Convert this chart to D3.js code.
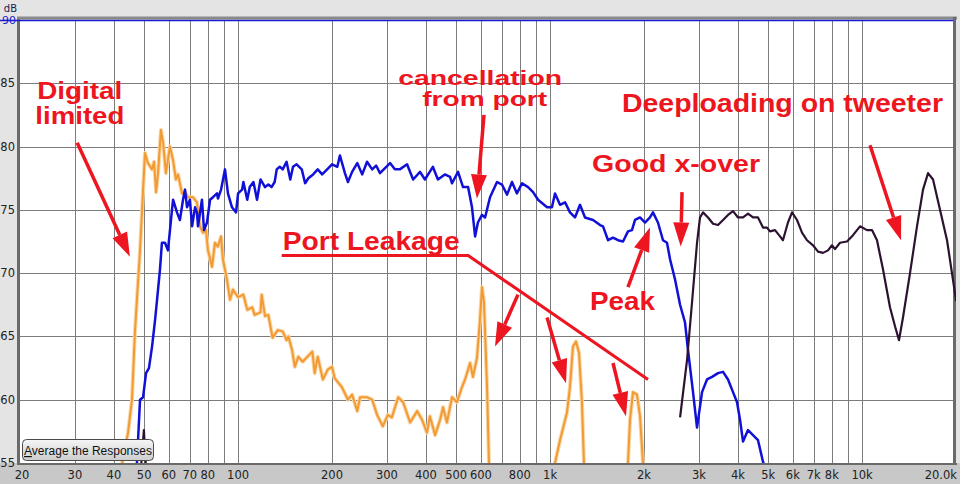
<!DOCTYPE html>
<html>
<head>
<meta charset="utf-8">
<script src="https://cdn.jsdelivr.net/npm/d3@7/dist/d3.min.js"></script>
<style>
  body { margin: 0; background: #e4e4e4; }
  svg { display: block; }
</style>
</head>
<body>
<div id="chart"></div>
<script>
// grid + tick values
var gridFreqs = [30, 40, 50, 60, 70, 80, 90, 100, 200, 300, 400, 500, 600, 700, 800, 900,
  1000, 2000, 3000, 4000, 5000, 6000, 7000, 8000, 9000, 10000];
var freqLabels = [20, 30, 40, 50, 60, 70, 80, 100, 200, 300, 400, 500, 600, 800,
  1000, 2000, 3000, 4000, 5000, 6000, 7000, 8000, 10000, 20000];
var dbTicks = [55, 60, 65, 70, 75, 80, 85];

// woofer (blue) [Hz, dB]
var woofer = [[47.4,55.0],[48.5,60.0],[49.6,60.2],[50.7,62.1],[51.8,62.5],[53.0,64.2],[54.2,66.3],
  [55.0,67.9],[56.2,70.3],[57.0,72.4],[58.3,72.4],[59.6,71.8],[61.4,75.0],[61.9,75.8],[63.7,74.8],
  [65.1,74.2],[66.6,75.8],[67.6,76.6],[68.6,75.2],[70.1,75.8],[71.2,73.7],[72.8,75.2],[73.8,74.8],
  [74.4,73.7],[76.6,75.8],[77.8,73.4],[79.5,74.0],[81.3,75.8],[83.1,76.0],[85.6,76.3],[86.2,75.9],
  [88.2,76.6],[90.8,78.2],[92.8,76.3],[95.6,75.2],[98.5,74.8],[100,76.3],[103,76.6],[104,77.2],
  [107,75.8],[109,76.8],[112,77.2],[115,75.8],[118,77.4],[122,76.8],[125,77.0],[128,76.8],
  [131,77.2],[133,78.2],[136,78.4],[139,78.2],[143,78.8],[147,77.4],[150,78.4],[154,78.6],
  [160,78.2],[164,77.1],[168,77.5],[174,77.8],[180,78.2],[186,77.8],[193,78.2],[200,78.6],
  [208,78.4],[212,79.3],[220,77.9],[225,77.2],[232,78.0],[241,78.7],[250,77.8],[259,78.8],
  [269,78.2],[277,78.5],[285,77.9],[307,78.7],[318,78.2],[330,78.2],[348,78.6],[364,77.4],
  [383,78.0],[397,77.4],[421,78.4],[437,77.4],[460,77.8],[478,77.6],[485,77.1],[507,78.0],
  [526,76.8],[546,76.8],[562,75.2],[575,72.9],[587,74.0],[605,74.6],[619,74.4],[642,76.0],
  [676,77.2],[701,77.0],[728,76.2],[755,77.2],[783,76.3],[813,77.1],[850,76.8],[882,76.4],
  [915,75.8],[978,75.2],[1014,75.2],[1037,76.3],[1076,75.4],[1117,75.6],[1158,74.8],[1202,74.4],
  [1247,75.4],[1294,74.4],[1373,74.2],[1446,73.8],[1478,73.7],[1534,72.6],[1591,72.8],[1651,72.6],
  [1713,72.5],[1777,73.3],[1830,73.4],[1872,74.2],[1942,74.4],[2015,74.0],[2090,74.4],[2137,74.8],
  [2217,74.0],[2301,72.6],[2370,72.4],[2424,71.1],[2515,69.5],[2610,67.5],[2707,66.1],[2768,63.9],
  [2872,60.6],[2958,57.8],[3069,60.6],[3184,61.6],[3304,61.8],[3454,62.1],[3584,62.2],[3718,61.6],
  [3858,60.6],[3974,59.8],[4063,58.4],[4154,56.7],[4309,57.6],[4471,57.2],[4639,56.8],[4813,55.1],
  [4885,54.6]];

// port (orange) [Hz, dB]
var port = [[42.5,55.0],[44.4,57.4],[45.7,60.0],[46.7,65.3],[47.4,67.9],[48.5,71.8],[50.3,79.5],
  [51.4,78.7],[53.0,78.2],[53.8,78.8],[54.6,76.4],[55.4,77.9],[56.6,81.3],[57.5,80.3],[58.7,77.9],
  [60.5,80.0],[61.9,78.9],[63.2,77.4],[64.2,77.8],[66.1,76.3],[67.6,76.4],[69.1,76.0],[71.7,76.0],
  [73.8,75.6],[75.5,73.7],[77.2,73.2],[78.9,73.4],[80.1,71.8],[82.5,70.5],[84.3,72.4],[86.2,72.1],
  [88.2,72.9],[89.4,71.1],[92.1,69.5],[94.2,67.9],[96.3,68.7],[100,68.1],[104,68.3],[107,67.1],
  [111,67.3],[113,66.7],[118,66.9],[119,68.3],[122,66.6],[125,66.7],[129,64.9],[134,65.5],
  [139,65.4],[143,64.7],[145,65.0],[149,63.9],[152,62.6],[156,63.4],[161,63.0],[173,63.8],
  [176,62.1],[180,63.4],[187,61.6],[194,62.4],[200,62.6],[204,61.7],[215,61.0],[225,60.0],
  [232,60.4],[241,59.1],[246,60.2],[259,60.2],[269,60.0],[279,58.8],[291,57.9],[302,58.8],
  [311,58.6],[326,60.2],[338,59.8],[356,58.2],[375,59.1],[389,58.4],[403,57.4],[412,58.7],
  [428,57.2],[444,58.4],[454,59.4],[467,58.2],[485,60.2],[503,59.8],[522,61.0],[534,61.6],
  [554,62.9],[566,61.8],[583,63.3],[596,66.3],[605,68.9],[614,67.7],[628,61.0],[637,55.0],
  [700,48],[1000,48],[1037,55.0],[1076,56.8],[1133,59.0],[1158,61.0],[1184,64.2],[1211,64.6],
  [1238,63.7],[1265,59.8],[1284,55.0],[1400,48],[1750,48],[1777,55.0],[1804,58.4],[1844,60.6],
  [1899,60.4],[1942,58.7],[1985,55.0],[2100,48]];

// tweeter (dark) [Hz, dB]
var tweeter = [[2610,58.6],[2747,63.1],[2851,67.7],[2958,72.4],[3024,74.4],[3092,74.8],[3208,74.4],
  [3329,73.9],[3454,73.8],[3584,74.2],[3718,74.6],[3858,74.9],[4003,74.4],[4154,74.4],[4309,74.7],
  [4471,74.4],[4639,74.4],[4813,73.6],[4958,73.6],[5068,73.3],[5259,73.4],[5457,72.9],[5577,72.6],
  [5787,74.0],[5963,74.8],[6187,74.2],[6419,73.2],[6660,72.6],[6962,72.2],[7224,71.7],[7495,71.6],
  [7777,71.8],[8009,72.2],[8188,71.9],[8496,72.4],[8946,72.5],[9354,73.0],[9848,73.7],[10368,73.4],
  [10760,73.4],[11164,72.6],[11668,70.3],[12288,67.3],[12750,65.8],[13132,64.7],[13524,66.5],
  [14244,70.0],[14998,73.7],[15680,76.6],[16272,77.9],[16882,77.4],[17774,75.0],[18718,72.6],
  [19854,68.4],[20000,67.8]];
var tweeterLow = [[48.8,54.5],[49.9,57.6],[50.7,54.5]];

// annotations, in chart units [Hz, dB]
var notes = [
  { size: 23, lines: [
    { text: "Digital", at: [22.7, 83.76], w: 85 },
    { text: "limited", at: [22.4, 81.78], w: 89 } ] },
  { size: 21, lines: [
    { text: "cancellation", at: [326, 84.9], w: 164 },
    { text: "from port", at: [389, 83.2], w: 125 } ] },
  { size: 25, lines: [{ text: "Deeploading on tweeter", at: [1700, 82.7], w: 321 }] },
  { size: 24, lines: [{ text: "Good x-over", at: [1363, 78.0], w: 168 }] },
  { size: 25, lines: [{ text: "Port Leakage", at: [139, 71.8], w: 177 }] },
  { size: 25, lines: [{ text: "Peak", at: [1343, 67.1], w: 65 }] }
];
var arrows = [
  [[30.5, 80.3], [45.0, 71.3]],
  [[614, 82.5], [583, 75.9]],
  [[2648, 76.4], [2622, 72.1]],
  [[1777, 68.9], [2090, 73.6]],
  [[10604, 80.1], [13330, 72.6]],
  [[789, 68.3], [666, 64.2]],
  [[978, 66.5], [1125, 61.3]],
  [[1591, 62.9], [1751, 58.7]]
];
var leakLine = [[138, 71.4], [546, 71.4], [2060, 61.6]];

var W = 960, H = 484;
var m = { left: 20, right: 956, top: 20, bottom: 463 };

var x = d3.scaleLog().domain([20, 20000]).range([m.left, m.right]);
var y = d3.scaleLinear().domain([55, 90]).range([m.bottom, m.top]);

var svg = d3.select("#chart").append("svg")
    .attr("width", W)
    .attr("height", H);

// bottom band
svg.append("rect")
    .attr("x", 0).attr("y", m.bottom)
    .attr("width", W).attr("height", H - m.bottom)
    .style("fill", "#c8c8c8");

// plot area
svg.append("rect")
    .attr("x", m.left).attr("y", m.top)
    .attr("width", m.right - m.left).attr("height", m.bottom - m.top)
    .style("fill", "#fff");

svg.append("clipPath").attr("id", "clip")
  .append("rect")
    .attr("x", m.left).attr("y", m.top)
    .attr("width", m.right - m.left).attr("height", m.bottom - m.top);

// grid
svg.selectAll(".vgrid")
    .data(gridFreqs)
  .enter().append("line")
    .attr("class", "vgrid")
    .attr("x1", function(d){ return Math.round(x(d)) + 0.5; })
    .attr("x2", function(d){ return Math.round(x(d)) + 0.5; })
    .attr("y1", m.top).attr("y2", m.bottom)
    .style("stroke", "#7c7c7c").style("stroke-width", 1);

svg.selectAll(".hgrid")
    .data(dbTicks)
  .enter().append("line")
    .attr("class", "hgrid")
    .attr("x1", m.left).attr("x2", m.right)
    .attr("y1", function(d){ return Math.round(y(d)) + 0.5; })
    .attr("y2", function(d){ return Math.round(y(d)) + 0.5; })
    .style("stroke", "#7c7c7c").style("stroke-width", 1);

// frame
svg.append("line")
    .attr("x1", m.left - 1.5).attr("x2", m.left - 1.5)
    .attr("y1", m.top - 3).attr("y2", m.bottom + 2)
    .style("stroke", "#6a6a6a").style("stroke-width", 3);
svg.append("line")
    .attr("x1", m.left - 3).attr("x2", m.right + 1)
    .attr("y1", m.top - 2).attr("y2", m.top - 2)
    .style("stroke", "#8a8a8a").style("stroke-width", 3);
svg.append("line")
    .attr("x1", m.right - 1.5).attr("x2", m.right - 1.5)
    .attr("y1", m.top - 3).attr("y2", m.bottom + 2)
    .style("stroke", "#6a6a6a").style("stroke-width", 3);
svg.append("line")
    .attr("x1", m.left - 3).attr("x2", m.right + 1)
    .attr("y1", m.bottom + 1).attr("y2", m.bottom + 1)
    .style("stroke", "#6a6a6a").style("stroke-width", 2);
svg.append("line")
    .attr("x1", 0).attr("x2", m.right - 3)
    .attr("y1", y(90) + 0.5).attr("y2", y(90) + 0.5)
    .style("stroke", "#1a1ad0").style("stroke-width", 1.5);

// axis labels
function fmtFreq(f){
  if (f == 20000) return "20.0k";
  return f >= 1000 ? (f / 1000) + "k" : "" + f;
}
svg.selectAll(".xlab")
    .data(freqLabels)
  .enter().append("text")
    .attr("class", "xlab")
    .attr("x", function(d){ return d == 20 ? x(d) + 2 : (d == 20000 ? x(d) + 1 : x(d)); })
    .attr("y", 479)
    .attr("text-anchor", function(d){ return d == 20000 ? "end" : "middle"; })
    .style("font-family", "'DejaVu Sans', sans-serif")
    .style("font-size", "11.5px")
    .style("fill", "#222")
    .text(fmtFreq);

svg.selectAll(".ylab")
    .data(dbTicks)
  .enter().append("text")
    .attr("class", "ylab")
    .attr("x", 15)
    .attr("y", function(d){ return y(d) + 4; })
    .attr("text-anchor", "end")
    .style("font-family", "'DejaVu Sans', sans-serif")
    .style("font-size", "11.5px")
    .style("fill", "#222")
    .text(function(d){ return d; });

svg.append("text")
    .attr("x", 17).attr("y", 12)
    .attr("text-anchor", "end")
    .style("font-family", "'DejaVu Sans', sans-serif")
    .style("font-size", "10px")
    .style("fill", "#1a1a50")
    .text("dB");
svg.append("text")
    .attr("x", 16).attr("y", y(90) + 4)
    .attr("text-anchor", "end")
    .style("font-family", "'DejaVu Sans', sans-serif")
    .style("font-size", "11px")
    .style("fill", "#1a1ad0")
    .text("90");

// curves
var line = d3.line()
    .x(function(d){ return x(d[0]); })
    .y(function(d){ return y(d[1]); });

var curves = svg.append("g").attr("clip-path", "url(#clip)");

curves.append("path")
    .datum(port)
    .attr("d", line)
    .style("fill", "none")
    .style("stroke", "#fbd7a8")
    .style("stroke-width", 4)
    .style("stroke-linejoin", "round");
curves.append("path")
    .datum(port)
    .attr("d", line)
    .style("fill", "none")
    .style("stroke", "#f29a33")
    .style("stroke-width", 2)
    .style("stroke-linejoin", "round");

curves.append("path")
    .datum(woofer)
    .attr("d", line)
    .style("fill", "none")
    .style("stroke", "#1010d8")
    .style("stroke-width", 2.5)
    .style("stroke-linejoin", "round");

[tweeter, tweeterLow].forEach(function(s){
  curves.append("path")
      .datum(s)
      .attr("d", line)
      .style("fill", "none")
      .style("stroke", "#2c1230")
      .style("stroke-width", 2.2)
      .style("stroke-linejoin", "round");
});

// annotations
var red = "#ec1520";
var ann = svg.append("g");

ann.selectAll(".note")
    .data(notes)
  .enter().append("text")
    .attr("class", "note")
    .style("font-family", "'Liberation Sans', Arial, sans-serif")
    .style("font-weight", "bold")
    .style("font-size", function(d){ return d.size + "px"; })
    .style("fill", red)
  .selectAll("tspan")
    .data(function(d){ return d.lines; })
  .enter().append("tspan")
    .attr("x", function(d){ return x(d.at[0]); })
    .attr("y", function(d){ return y(d.at[1]); })
    .attr("textLength", function(d){ return d.w; })
    .attr("lengthAdjust", "spacingAndGlyphs")
    .text(function(d){ return d.text; });

ann.append("path")
    .datum(leakLine)
    .attr("d", line)
    .style("fill", "none")
    .style("stroke", red)
    .style("stroke-width", 3);

arrows.forEach(function(a){
  var x0 = x(a[0][0]), y0 = y(a[0][1]), x1 = x(a[1][0]), y1 = y(a[1][1]);
  var dx = x1 - x0, dy = y1 - y0, len = Math.sqrt(dx * dx + dy * dy);
  var ux = dx / len, uy = dy / len;
  var hl = 24, hw = 8;
  var bx = x1 - ux * hl, by = y1 - uy * hl;
  ann.append("line")
      .attr("x1", x0).attr("y1", y0)
      .attr("x2", bx).attr("y2", by)
      .style("stroke", red)
      .style("stroke-width", 3.5);
  ann.append("path")
      .attr("d", "M" + x1 + "," + y1 +
        "L" + (bx - uy * hw) + "," + (by + ux * hw) +
        "L" + (bx + uy * hw) + "," + (by - ux * hw) + "Z")
      .style("fill", red);
});

// button
var btn = svg.append("g");
var grad = svg.append("defs").append("linearGradient")
    .attr("id", "btngrad").attr("x1", 0).attr("x2", 0).attr("y1", 0).attr("y2", 1);
grad.append("stop").attr("offset", "0%").attr("stop-color", "#f6f6f6");
grad.append("stop").attr("offset", "100%").attr("stop-color", "#cdcdcd");
btn.append("rect")
    .attr("x", 22.5).attr("y", 439.5)
    .attr("width", 131).attr("height", 21)
    .attr("rx", 4)
    .style("fill", "url(#btngrad)")
    .style("stroke", "#4a4a4a");
var bt = btn.append("text")
    .attr("x", 88).attr("y", 455)
    .attr("text-anchor", "middle")
    .style("font-family", "'Liberation Sans', Arial, sans-serif")
    .style("font-size", "12px")
    .style("fill", "#111");
bt.append("tspan").style("text-decoration", "underline").text("A");
bt.append("tspan").text("verage the Responses");
</script>
</body>
</html>
